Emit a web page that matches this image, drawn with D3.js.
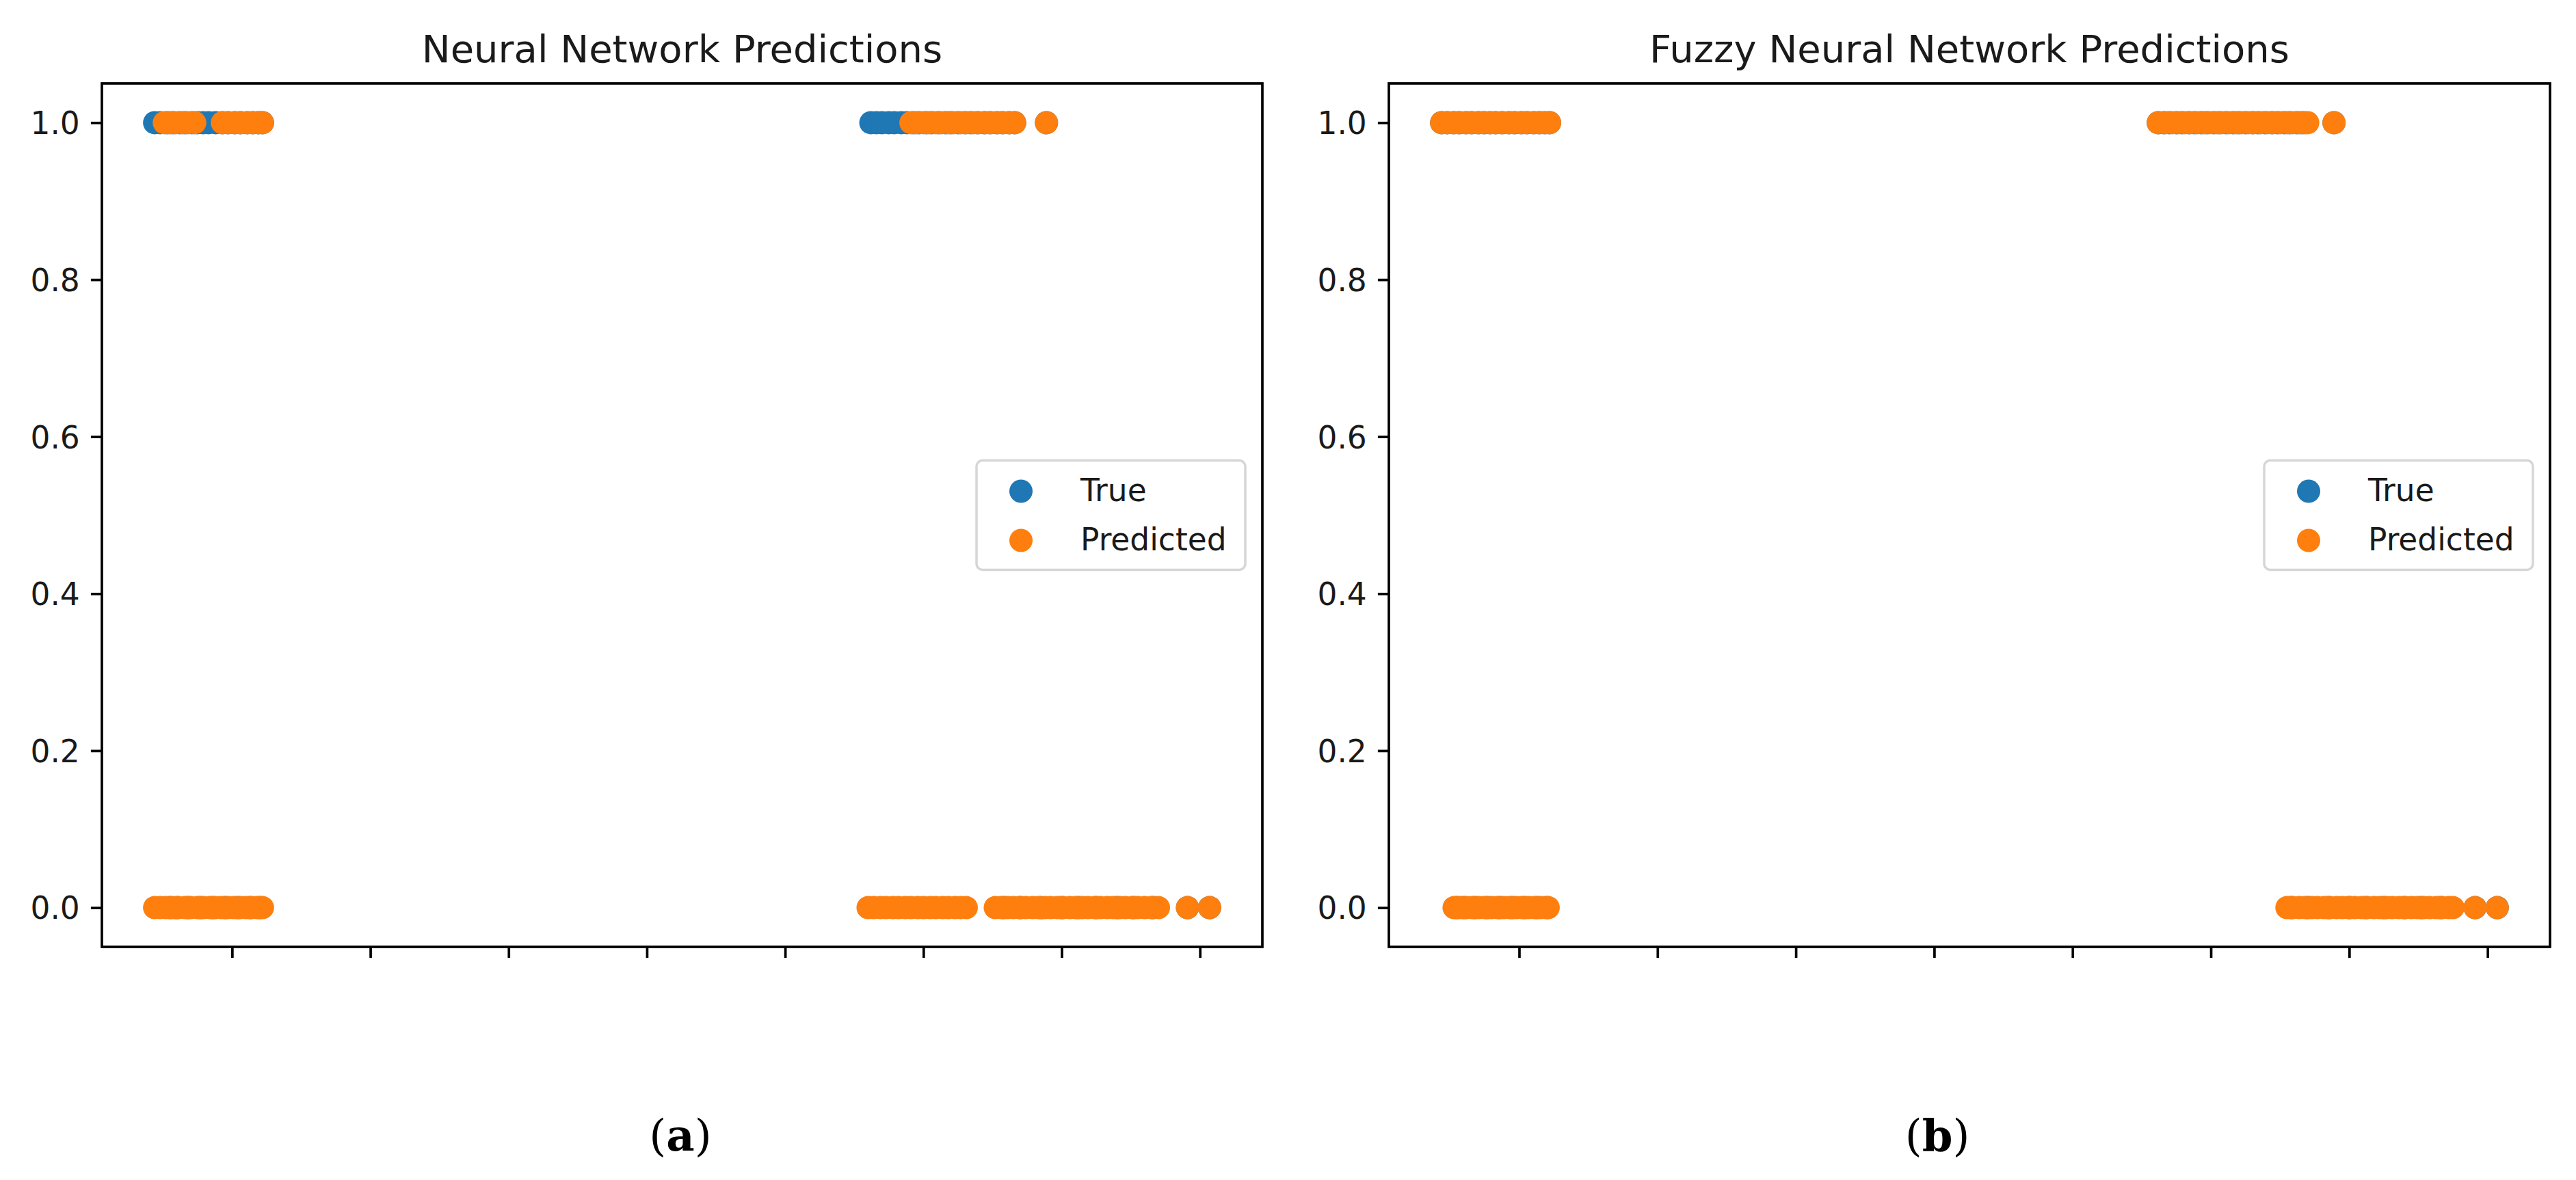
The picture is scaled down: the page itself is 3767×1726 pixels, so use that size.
<!DOCTYPE html>
<html>
<head>
<meta charset="utf-8">
<script src="https://cdn.jsdelivr.net/npm/d3@7"></script>
<style>
  html, body { margin: 0; padding: 0; background: #ffffff; }
  svg { display: block; }
</style>
</head>
<body>
<svg id="chart" width="3767" height="1726"></svg>
<script>
// ---------------- data ----------------
const panelTitles = ["Neural Network Predictions", "Fuzzy Neural Network Predictions"];
const panelCaptions = ["a", "b"];
const seriesNames = ["True", "Predicted"];
const yTicks = [0.0, 0.2, 0.4, 0.6, 0.8, 1.0];
const xTicks = [1, 2, 3, 4, 5, 6, 7, 8];

// x positions of samples whose true label is 1 / 0 (shared by both panels)
const trueOnes = [0.44, 0.48, 0.53, 0.57, 0.62, 0.66, 0.71, 0.75, 0.79, 0.83, 0.88, 0.93, 0.97, 1.02, 1.06, 1.11, 1.15, 1.19, 1.22,
  5.62, 5.66, 5.70, 5.75, 5.79, 5.84, 5.88, 5.93, 5.97, 6.02, 6.06, 6.11, 6.16, 6.20, 6.25, 6.30, 6.34, 6.39, 6.44, 6.48, 6.53, 6.57, 6.62, 6.66, 6.89];
const trueZeros = [0.55, 0.60, 0.68, 0.77, 0.86, 0.95, 1.04, 1.13, 1.20,
  6.58, 6.70, 6.85, 7.00, 7.12, 7.25, 7.40, 7.52, 7.66, 7.91, 8.07];

// Neural network predictions: x positions predicted 1 / 0
const nnPredOnes = [0.51, 0.55, 0.59, 0.64, 0.68, 0.73, 0.93, 0.97, 1.02, 1.06, 1.11, 1.15, 1.19, 1.22,
  5.91, 5.95, 6.00, 6.04, 6.09, 6.13, 6.18, 6.22, 6.27, 6.31, 6.36, 6.40, 6.45, 6.49, 6.54, 6.58, 6.62, 6.66, 6.89];
const nnPredZeros = [0.44, 0.48, 0.52, 0.57, 0.61, 0.66, 0.70, 0.75, 0.79, 0.84, 0.88, 0.92, 0.97, 1.01, 1.06, 1.10, 1.14, 1.18, 1.22,
  5.60, 5.64, 5.69, 5.73, 5.78, 5.82, 5.87, 5.91, 5.96, 6.00, 6.05, 6.09, 6.14, 6.18, 6.23, 6.27, 6.31,
  6.52, 6.56, 6.61, 6.65, 6.70, 6.74, 6.79, 6.83, 6.88, 6.92, 6.97, 7.01, 7.06, 7.10, 7.15, 7.19, 7.24, 7.28, 7.33, 7.37, 7.42, 7.46, 7.51, 7.55, 7.60, 7.65, 7.70,
  7.91, 8.07];

// Fuzzy neural network predictions: x positions predicted 1 / 0
const fnnPredOnes = [0.44, 0.48, 0.52, 0.56, 0.61, 0.65, 0.70, 0.74, 0.79, 0.83, 0.87, 0.92, 0.96, 1.01, 1.05, 1.10, 1.14, 1.18, 1.22,
  5.62, 5.67, 5.72, 5.76, 5.81, 5.85, 5.90, 5.95, 5.99, 6.04, 6.08, 6.13, 6.18, 6.22, 6.27, 6.31, 6.36, 6.41, 6.45, 6.50, 6.55, 6.59, 6.64, 6.68, 6.70, 6.89];
const fnnPredZeros = [0.53, 0.57, 0.62, 0.66, 0.71, 0.75, 0.80, 0.84, 0.89, 0.93, 0.98, 1.02, 1.07, 1.11, 1.16, 1.21,
  6.55, 6.59, 6.64, 6.68, 6.73, 6.77, 6.82, 6.86, 6.91, 6.95, 7.00, 7.04, 7.09, 7.13, 7.18, 7.22, 7.27, 7.31, 7.36, 7.40, 7.45, 7.49, 7.54, 7.58, 7.63, 7.67, 7.72, 7.75,
  7.91, 8.07];

// ---------------- layout / style ----------------
const colors = { True: "#1f77b4", Predicted: "#ff7f0e" };
const plotTop = 122, plotBottom = 1385;
const panelsLayout = [
  { left: 149, right: 1846, captionX: 995 },
  { left: 2031, right: 3729, captionX: 2833 }
];
const pt = 4.6;               // pixels per typographic point
const tickFont = 45.5, titleFont = 56;
const dotR = 17;

const panels = [
  { title: panelTitles[0], caption: panelCaptions[0], predOnes: nnPredOnes, predZeros: nnPredZeros },
  { title: panelTitles[1], caption: panelCaptions[1], predOnes: fnnPredOnes, predZeros: fnnPredZeros }
];

const svg = d3.select("#chart");
svg.append("rect").attr("width", 3767).attr("height", 1726).attr("fill", "#fff");

panels.forEach((p, i) => {
  const L = panelsLayout[i];
  const g = svg.append("g");

  const trueData = trueOnes.map(x => ({ x, y: 1 })).concat(trueZeros.map(x => ({ x, y: 0 })));
  const predData = p.predOnes.map(x => ({ x, y: 1 })).concat(p.predZeros.map(x => ({ x, y: 0 })));
  const all = trueData.concat(predData);
  const [xmin, xmax] = d3.extent(all, d => d.x);
  const span = xmax - xmin;
  const x = d3.scaleLinear().domain([xmin - 0.05 * span, xmax + 0.05 * span]).range([L.left, L.right]);
  const y = d3.scaleLinear().domain([-0.05, 1.05]).range([plotBottom, plotTop]);

  // points
  [["True", trueData], ["Predicted", predData]].forEach(([name, data]) => {
    g.append("g").selectAll("circle").data(data).join("circle")
      .attr("cx", d => x(d.x)).attr("cy", d => y(d.y)).attr("r", dotR)
      .attr("fill", colors[name]);
  });

  // axes
  const yAxis = g.append("g").attr("transform", `translate(${L.left},0)`)
    .call(d3.axisLeft(y).tickValues(yTicks).tickFormat(d3.format(".1f")).tickSize(3.5 * pt).tickPadding(3.5 * pt));
  const xAxis = g.append("g").attr("transform", `translate(0,${plotBottom})`)
    .call(d3.axisBottom(x).tickValues(xTicks).tickFormat("").tickSize(3.5 * pt));
  [yAxis, xAxis].forEach(ax => {
    ax.select(".domain").remove();
    ax.selectAll(".tick line").attr("stroke", "#000").attr("stroke-width", 0.8 * pt);
    ax.selectAll(".tick text").attr("fill", "#1a1a1a")
      .style("font-family", "'DejaVu Sans', sans-serif").style("font-size", tickFont + "px");
  });
  yAxis.selectAll(".tick text").attr("dy", "0.36em");

  // frame
  g.append("rect").attr("x", L.left).attr("y", plotTop)
    .attr("width", L.right - L.left).attr("height", plotBottom - plotTop)
    .attr("fill", "none").attr("stroke", "#000").attr("stroke-width", 0.8 * pt);

  // title
  g.append("text").attr("x", (L.left + L.right) / 2).attr("y", plotTop - 31)
    .attr("text-anchor", "middle").attr("fill", "#1a1a1a")
    .style("font-family", "'DejaVu Sans', sans-serif").style("font-size", titleFont + "px")
    .text(p.title);

  // legend (center right)
  const lw = 393, lh = 160;
  const lx = L.right - 25 - lw, ly = (plotTop + plotBottom) / 2 - lh / 2;
  const lg = g.append("g").attr("transform", `translate(${lx},${ly})`);
  lg.append("rect").attr("width", lw).attr("height", lh).attr("rx", 9)
    .attr("fill", "#fff").attr("fill-opacity", 0.8)
    .attr("stroke", "#d6d6d6").attr("stroke-width", 3.5);
  seriesNames.forEach((name, k) => {
    const cy = 45 + k * 72;
    lg.append("circle").attr("cx", 65).attr("cy", cy).attr("r", dotR).attr("fill", colors[name]);
    lg.append("text").attr("x", 152).attr("y", cy + 14).attr("fill", "#1a1a1a")
      .style("font-family", "'DejaVu Sans', sans-serif").style("font-size", tickFont + "px")
      .text(name);
  });

  // caption
  const cap = svg.append("text").attr("x", L.captionX).attr("y", 1683)
    .attr("text-anchor", "middle").attr("fill", "#000")
    .style("font-family", "'DejaVu Serif', serif").style("font-size", "64px");
  cap.append("tspan").text("(");
  cap.append("tspan").style("font-weight", "bold").text(p.caption);
  cap.append("tspan").text(")");
});
</script>
</body>
</html>
